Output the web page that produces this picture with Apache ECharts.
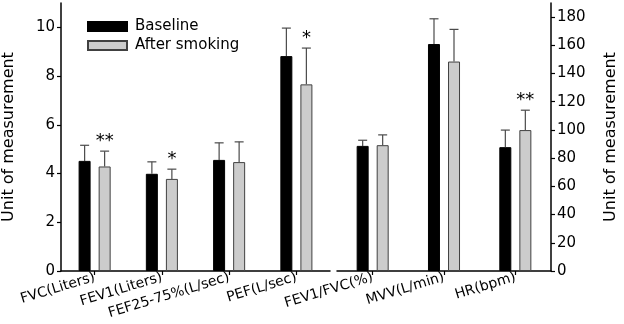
<!DOCTYPE html>
<html>
<head>
<meta charset="utf-8">
<script src="https://cdn.jsdelivr.net/npm/echarts@6/dist/echarts.min.js"></script>
<style>html,body{margin:0;padding:0;background:#fff}#chart{width:624px;height:324px}</style>
</head>
<body>
<div id="chart"></div>
<script>
// left panel (litres / flow), right panel (%, L/min, bpm)
var lungCats = ['FVC(Liters)', 'FEV1(Liters)', 'FEF25-75%(L/sec)', 'PEF(L/sec)'];
var otherCats = ['FEV1/FVC(%)', 'MVV(L/min)', 'HR(bpm)'];

var lungBase = [4.52, 3.99, 4.56, 8.82];
var lungBaseErr = [5.16, 4.48, 5.26, 9.97];
var lungAfter = [4.29, 3.78, 4.47, 7.66];
var lungAfterErr = [4.92, 4.18, 5.30, 9.15];
var lungSig = ['**', '*', '', '*'];

var otherBase = [88.7, 160.9, 87.8];
var otherBaseErr = [92.7, 178.8, 99.9];
var otherAfter = [89.2, 148.5, 99.9];
var otherAfterErr = [96.5, 171.3, 114];
var otherSig = ['', '', '**'];

var leftTicks = [0, 2, 4, 6, 8, 10];
var rightTicks = [0, 20, 40, 60, 80, 100, 120, 140, 160, 180];

var FONT = 'DejaVu Sans';
var chart = echarts.init(document.getElementById('chart'));

// upper whisker + cap (+ significance stars) drawn on top of each bar
function errSeries(name, xi, yi, tops, errs, sig, shift) {
    return {
        name: name,
        type: 'custom',
        xAxisIndex: xi,
        yAxisIndex: yi,
        z: 3,
        silent: true,
        data: tops.map(function (v, i) { return [i, v, errs[i]]; }),
        renderItem: function (params, api) {
            var i = api.value(0);
            var p0 = api.coord([i, api.value(1)]);
            var p1 = api.coord([i, api.value(2)]);
            var x = p0[0] + shift;
            var st = { stroke: '#4a4a4a', lineWidth: 1.2 };
            var kids = [
                { type: 'line', shape: { x1: x, y1: p0[1], x2: x, y2: p1[1] }, style: st },
                { type: 'line', shape: { x1: x - 4.5, y1: p1[1], x2: x + 4.5, y2: p1[1] }, style: st }
            ];
            if (sig && sig[i]) {
                kids.push({
                    type: 'text',
                    style: {
                        text: sig[i], x: x, y: p1[1] - 10,
                        align: 'center', verticalAlign: 'middle',
                        font: '18px ' + FONT, fill: '#000'
                    }
                });
            }
            return { type: 'group', children: kids };
        }
    };
}

var axisLine = { show: true, lineStyle: { color: '#000', width: 1.5 } };

function catAxis(idx, cats) {
    return {
        type: 'category',
        gridIndex: idx,
        data: cats,
        axisLine: axisLine,
        axisTick: { show: true, alignWithLabel: true, length: 4, lineStyle: { color: '#000', width: 1.2 } },
        axisLabel: { interval: 0, rotate: 17, margin: 6, color: '#000', fontSize: 14, fontFamily: FONT },
        splitLine: { show: false }
    };
}

function valAxis(idx, pos, max, ticks) {
    return {
        type: 'value',
        gridIndex: idx,
        position: pos,
        min: 0,
        max: max,
        name: 'Unit of measurement',
        nameLocation: 'middle',
        nameRotate: 90,
        nameGap: pos === 'left' ? 44 : 52,
        nameTextStyle: { color: '#000', fontSize: 16, fontFamily: FONT },
        axisLine: axisLine,
        axisTick: { show: true, length: 4, customValues: ticks, lineStyle: { color: '#000', width: 1.2 } },
        axisLabel: { customValues: ticks, margin: 6, color: '#000', fontSize: 15, fontFamily: FONT },
        splitLine: { show: false }
    };
}

var blackBar = { color: '#000', borderColor: '#000', borderWidth: 1 };
var grayBar = { color: '#cccccc', borderColor: '#404040', borderWidth: 1 };

var option = {
    animation: false,
    backgroundColor: '#fff',
    legend: {
        data: ['Baseline', 'After smoking'],
        orient: 'vertical',
        left: 82,
        top: 14,
        itemWidth: 39,
        itemHeight: 9,
        itemGap: 4,
        icon: 'rect',
        textStyle: { color: '#000', fontSize: 15, fontFamily: FONT, padding: [0, 0, 0, 3] }
    },
    grid: [
        { left: 58, top: 3, width: 272, bottom: 53 },
        { left: 337, top: 3, width: 214, bottom: 53 }
    ],
    xAxis: [catAxis(0, lungCats), catAxis(1, otherCats)],
    yAxis: [valAxis(0, 'left', 11, leftTicks), valAxis(1, 'right', 190, rightTicks)],
    series: [
        { name: 'Baseline', type: 'bar', xAxisIndex: 0, yAxisIndex: 0, barWidth: 12, barGap: '67%', itemStyle: blackBar, data: lungBase },
        { name: 'After smoking', type: 'bar', xAxisIndex: 0, yAxisIndex: 0, barWidth: 12, barGap: '67%', itemStyle: grayBar, data: lungAfter },
        { name: 'Baseline', type: 'bar', xAxisIndex: 1, yAxisIndex: 1, barWidth: 12, barGap: '67%', itemStyle: blackBar, data: otherBase },
        { name: 'After smoking', type: 'bar', xAxisIndex: 1, yAxisIndex: 1, barWidth: 12, barGap: '67%', itemStyle: grayBar, data: otherAfter },
        errSeries('sd1', 0, 0, lungBase, lungBaseErr, null, -10),
        errSeries('sd2', 0, 0, lungAfter, lungAfterErr, lungSig, 10),
        errSeries('sd3', 1, 1, otherBase, otherBaseErr, null, -10),
        errSeries('sd4', 1, 1, otherAfter, otherAfterErr, otherSig, 10)
    ]
};

chart.setOption(option);
</script>
</body>
</html>
